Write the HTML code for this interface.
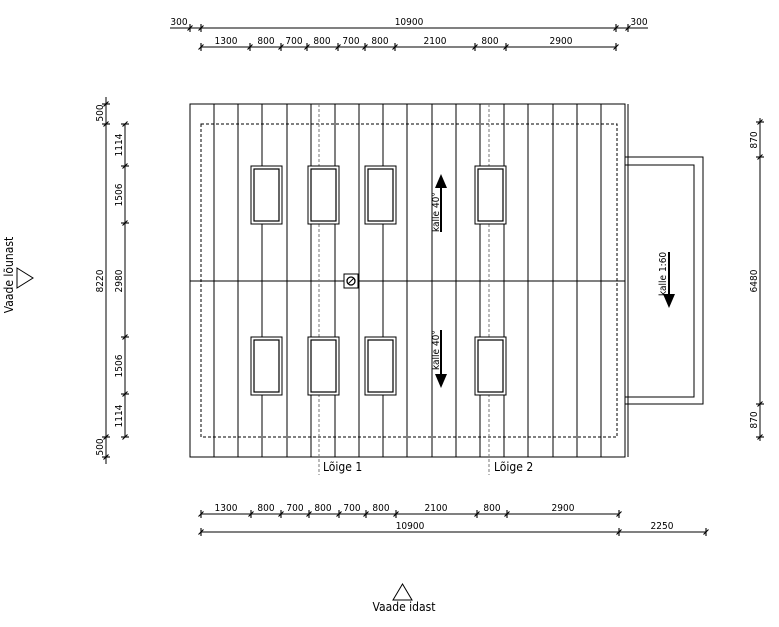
<!DOCTYPE html>
<html><head><meta charset="utf-8"><style>
html,body{margin:0;padding:0;background:#fff;}
svg{display:block;font-family:"DejaVu Sans Condensed","Liberation Sans",sans-serif;}
</style></head><body>
<svg width="779" height="627" viewBox="0 0 779 627" xmlns="http://www.w3.org/2000/svg">
<defs>
<g id="tk" stroke="#000" stroke-width="1.1"><line x1="0" y1="-4" x2="0" y2="4"/><line x1="-2.5" y1="2.5" x2="2.5" y2="-2.5"/></g>
<g id="tv" stroke="#000" stroke-width="1.1"><line x1="-4" y1="0" x2="4" y2="0"/><line x1="-2.5" y1="2.5" x2="2.5" y2="-2.5"/></g>
<g id="win"><rect x="0" y="0" width="31" height="58" fill="#fff" stroke="#000" stroke-width="1"/><rect x="3" y="3" width="25" height="52" fill="#fff" stroke="#000" stroke-width="1.2"/></g>
</defs>
<rect width="779" height="627" fill="#fff"/>

<rect x="625" y="157" width="78" height="247" fill="none" stroke="#000" stroke-width="1"/>
<rect x="625" y="165" width="69" height="232" fill="none" stroke="#000" stroke-width="1"/>

<g stroke="#000" stroke-width="1" fill="none">
<rect x="190" y="104" width="435" height="353"/>
<line x1="628" y1="104" x2="628" y2="457"/>
<line x1="214" y1="104" x2="214" y2="457"/><line x1="238" y1="104" x2="238" y2="457"/>
<line x1="262" y1="104" x2="262" y2="457"/><line x1="287" y1="104" x2="287" y2="457"/>
<line x1="311" y1="104" x2="311" y2="457"/><line x1="335" y1="104" x2="335" y2="457"/>
<line x1="359" y1="104" x2="359" y2="457"/><line x1="383" y1="104" x2="383" y2="457"/>
<line x1="407" y1="104" x2="407" y2="457"/><line x1="432" y1="104" x2="432" y2="457"/>
<line x1="456" y1="104" x2="456" y2="457"/><line x1="480" y1="104" x2="480" y2="457"/>
<line x1="504" y1="104" x2="504" y2="457"/><line x1="528" y1="104" x2="528" y2="457"/>
<line x1="553" y1="104" x2="553" y2="457"/><line x1="577" y1="104" x2="577" y2="457"/>
<line x1="601" y1="104" x2="601" y2="457"/>
<line x1="190" y1="281" x2="625" y2="281"/>
<rect x="201" y="124" width="416" height="313" stroke-dasharray="3,2"/>
</g>
<g stroke="#777" stroke-width="1" stroke-dasharray="3,2">
<line x1="319" y1="104" x2="319" y2="475"/>
<line x1="489" y1="104" x2="489" y2="475"/>
</g>
<use href="#win" x="251" y="166"/><use href="#win" x="308" y="166"/><use href="#win" x="365" y="166"/><use href="#win" x="475" y="166"/>
<use href="#win" x="251" y="337"/><use href="#win" x="308" y="337"/><use href="#win" x="365" y="337"/><use href="#win" x="475" y="337"/>
<rect x="344" y="274" width="14" height="14" fill="#fff" stroke="#000"/>
<circle cx="351" cy="281" r="4" fill="none" stroke="#000" stroke-width="1.3"/>
<line x1="348" y1="284" x2="354" y2="278" stroke="#000"/>

<line x1="441" y1="186" x2="441" y2="232" stroke="#000" stroke-width="2"/>
<polygon points="441,174 435,188 447,188" fill="#000"/>
<text transform="translate(439,232) rotate(-90)" font-size="10">kalle 40°</text>
<line x1="441" y1="330" x2="441" y2="376" stroke="#000" stroke-width="2"/>
<polygon points="441,388 435,374 447,374" fill="#000"/>
<text transform="translate(439,370) rotate(-90)" font-size="10">kalle 40°</text>
<line x1="669" y1="252" x2="669" y2="296" stroke="#000" stroke-width="2"/>
<polygon points="669,308 663,294 675,294" fill="#000"/>
<text transform="translate(666,296) rotate(-90)" font-size="10">kalle 1:60</text>

<text x="323" y="471" font-size="12">Lõige 1</text>
<text x="494" y="471" font-size="12">Lõige 2</text>

<g stroke="#000" stroke-width="1">
<line x1="170" y1="28" x2="648" y2="28"/>
<line x1="201" y1="47" x2="616" y2="47"/>
</g>
<use href="#tk" x="190" y="28"/><use href="#tk" x="201" y="28"/><use href="#tk" x="616" y="28"/><use href="#tk" x="628" y="28"/>
<use href="#tk" x="201" y="47"/><use href="#tk" x="250" y="47"/><use href="#tk" x="281" y="47"/><use href="#tk" x="307" y="47"/><use href="#tk" x="338" y="47"/><use href="#tk" x="365" y="47"/><use href="#tk" x="395" y="47"/><use href="#tk" x="475" y="47"/><use href="#tk" x="506" y="47"/><use href="#tk" x="616" y="47"/>
<g font-size="10" text-anchor="middle">
<text x="179" y="25">300</text><text x="409" y="25">10900</text><text x="639" y="25">300</text>
<text x="226" y="44">1300</text><text x="266" y="44">800</text><text x="294" y="44">700</text><text x="322" y="44">800</text><text x="351" y="44">700</text><text x="380" y="44">800</text><text x="435" y="44">2100</text><text x="490" y="44">800</text><text x="561" y="44">2900</text>
</g>

<g stroke="#000" stroke-width="1">
<line x1="201" y1="514" x2="619" y2="514"/>
<line x1="201" y1="532" x2="706" y2="532"/>
</g>
<use href="#tk" x="201" y="514"/><use href="#tk" x="251" y="514"/><use href="#tk" x="281" y="514"/><use href="#tk" x="309" y="514"/><use href="#tk" x="339" y="514"/><use href="#tk" x="366" y="514"/><use href="#tk" x="396" y="514"/><use href="#tk" x="477" y="514"/><use href="#tk" x="507" y="514"/><use href="#tk" x="619" y="514"/>
<use href="#tk" x="201" y="532"/><use href="#tk" x="619" y="532"/><use href="#tk" x="706" y="532"/>
<g font-size="10" text-anchor="middle">
<text x="226" y="511">1300</text><text x="266" y="511">800</text><text x="295" y="511">700</text><text x="323" y="511">800</text><text x="352" y="511">700</text><text x="381" y="511">800</text><text x="436" y="511">2100</text><text x="492" y="511">800</text><text x="563" y="511">2900</text>
<text x="410" y="529">10900</text><text x="662" y="529">2250</text>
</g>

<g stroke="#000" stroke-width="1">
<line x1="106" y1="97" x2="106" y2="464"/>
<line x1="125" y1="124" x2="125" y2="437"/>
</g>
<use href="#tv" x="106" y="104"/><use href="#tv" x="106" y="124"/><use href="#tv" x="106" y="437"/><use href="#tv" x="106" y="457"/>
<use href="#tv" x="125" y="124"/><use href="#tv" x="125" y="166"/><use href="#tv" x="125" y="223"/><use href="#tv" x="125" y="337"/><use href="#tv" x="125" y="394"/><use href="#tv" x="125" y="437"/>
<g font-size="10" text-anchor="middle">
<text transform="translate(103,113) rotate(-90)">500</text>
<text transform="translate(103,281) rotate(-90)">8220</text>
<text transform="translate(103,447) rotate(-90)">500</text>
<text transform="translate(122,145) rotate(-90)">1114</text>
<text transform="translate(122,195) rotate(-90)">1506</text>
<text transform="translate(122,281) rotate(-90)">2980</text>
<text transform="translate(122,366) rotate(-90)">1506</text>
<text transform="translate(122,416) rotate(-90)">1114</text>
</g>

<line x1="760" y1="118" x2="760" y2="441" stroke="#000" stroke-width="1"/>
<use href="#tv" x="760" y="122"/><use href="#tv" x="760" y="157"/><use href="#tv" x="760" y="404"/><use href="#tv" x="760" y="437"/>
<g font-size="10" text-anchor="middle">
<text transform="translate(757,140) rotate(-90)">870</text>
<text transform="translate(757,281) rotate(-90)">6480</text>
<text transform="translate(757,420) rotate(-90)">870</text>
</g>

<polygon points="17,268 33,278 17,288" fill="none" stroke="#000"/>
<text transform="translate(13,275) rotate(-90)" font-size="12" text-anchor="middle">Vaade lõunast</text>
<polygon points="393,600 412,600 402.5,584" fill="none" stroke="#000"/>
<text x="404" y="611" font-size="12" text-anchor="middle">Vaade idast</text>
</svg>
</body></html>
